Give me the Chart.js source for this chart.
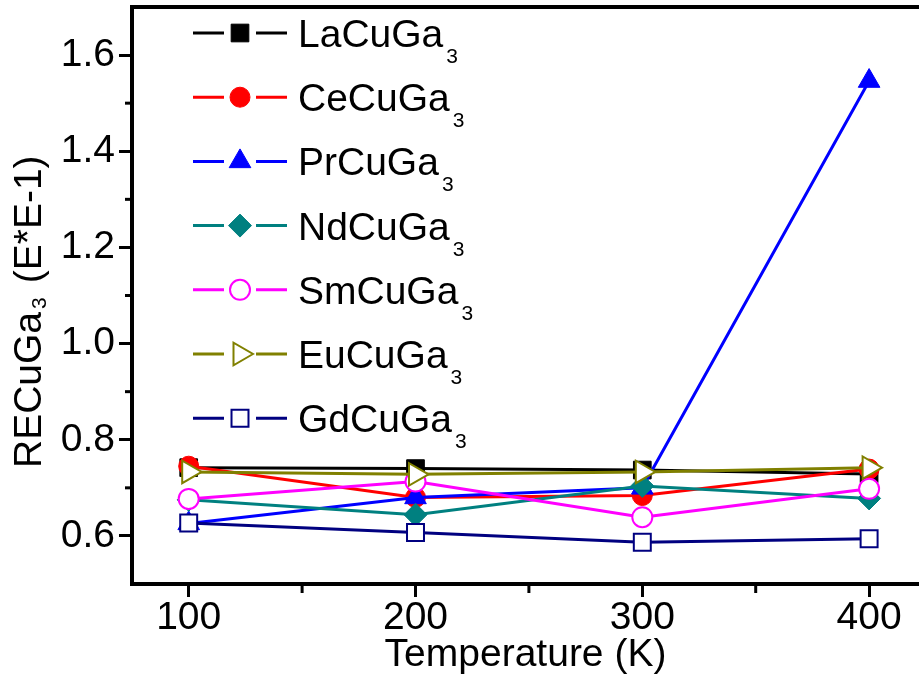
<!DOCTYPE html>
<html>
<head>
<meta charset="utf-8">
<title>RECuGa3 vs temperature</title>
<script src="https://cdn.jsdelivr.net/npm/chart.js@4.4.1/dist/chart.umd.min.js"></script>
<style>
  html, body { margin: 0; padding: 0; background: #fff; overflow: hidden; }
  #chart { display: block; }
</style>
</head>
<body>
<canvas id="chart" width="919" height="686"></canvas>
<script>
// Temperatures (K) and the value for each compound
const temperatures = [100, 200, 300, 400];
const laCuGa3 = [0.742, 0.740, 0.737, 0.729];
const ceCuGa3 = [0.745, 0.680, 0.684, 0.739];
const prCuGa3 = [0.626, 0.680, 0.700, 1.546];
const ndCuGa3 = [0.675, 0.644, 0.704, 0.678];
const smCuGa3 = [0.677, 0.713, 0.639, 0.698];
const euCuGa3 = [0.733, 0.728, 0.733, 0.742];
const gdCuGa3 = [0.627, 0.607, 0.587, 0.594];

const xTicks = [100, 200, 300, 400];
const xMinorTicks = [150, 250, 350];
const yTicks = [0.6, 0.8, 1.0, 1.2, 1.4, 1.6];
const yMinorTicks = [0.7, 0.9, 1.1, 1.3, 1.5];

const FONT = '"Liberation Sans", Arial, sans-serif';

// name, values, colour, marker, filled?, marker radius, rotation
const series = [
  ['LaCuGa3', laCuGa3, '#000000', 'rect', true, 12.5, 0],
  ['CeCuGa3', ceCuGa3, '#ff0000', 'circle', true, 10, 0],
  ['PrCuGa3', prCuGa3, '#0000ff', 'triangle', true, 12.5, 0],
  ['NdCuGa3', ndCuGa3, '#008080', 'rectRot', true, 11.5, 0],
  ['SmCuGa3', smCuGa3, '#ff00ff', 'circle', false, 10, 0],
  ['EuCuGa3', euCuGa3, '#808000', 'triangle', false, 13, 90],
  ['GdCuGa3', gdCuGa3, '#000080', 'rect', false, 12, 0]
];

const datasets = series.map(([name, values, color, style, filled, radius, rot], i) => ({
  label: name,
  data: temperatures.map((t, j) => ({ x: t, y: values[j] })),
  borderColor: color,
  borderWidth: 3,
  pointStyle: style,
  pointRadius: radius,
  pointRotation: rot,
  pointBackgroundColor: filled ? color : '#ffffff',
  pointBorderColor: color,
  pointBorderWidth: filled ? 1 : 2,
  tension: 0,
  // later compounds sit on top
  order: series.length - i
}));

// draws "LaCuGa3" style formulas with trailing digits as a subscript
function drawFormula(ctx, text, x, y, size, subSize, subDrop) {
  const m = text.match(/^(.*?)(\d*)$/);
  ctx.font = `${size}px ${FONT}`;
  ctx.fillText(m[1], x, y);
  const w = ctx.measureText(m[1]).width;
  ctx.font = `${subSize}px ${FONT}`;
  ctx.fillText(m[2], x + w + 3, y + subDrop);
  return w + 3 + ctx.measureText(m[2]).width;
}

// keep the plot box fixed, no extra room for edge labels
function noPadding(s) {
  s.paddingTop = 0;
  s.paddingBottom = 0;
  s.paddingLeft = 0;
  s.paddingRight = 0;
}

const extrasPlugin = {
  id: 'extras',
  afterDraw(chart) {
    const ctx = chart.ctx;
    const xs = chart.scales.x;
    const ys = chart.scales.y;
    const area = chart.chartArea;

    // minor ticks
    ctx.save();
    ctx.strokeStyle = '#000';
    ctx.lineWidth = 3;
    xMinorTicks.forEach(v => {
      const px = xs.getPixelForValue(v);
      ctx.beginPath();
      ctx.moveTo(px, area.bottom);
      ctx.lineTo(px, area.bottom + 9);
      ctx.stroke();
    });
    yMinorTicks.forEach(v => {
      const py = ys.getPixelForValue(v);
      ctx.beginPath();
      ctx.moveTo(area.left, py);
      ctx.lineTo(area.left - 7, py);
      ctx.stroke();
    });
    ctx.restore();

    // y axis title
    ctx.save();
    ctx.fillStyle = '#000';
    ctx.textBaseline = 'alphabetic';
    ctx.translate(41, 468);
    ctx.rotate(-Math.PI / 2);
    const w = drawFormula(ctx, 'RECuGa3', 0, 0, 39, 21, 5);
    ctx.font = `39px ${FONT}`;
    ctx.fillText('(E*E-1)', w + 14, 0);
    ctx.restore();

    // legend: line - marker - line, then the formula
    ctx.save();
    datasets.forEach((ds, i) => {
      const cy = 33 + i * 64.2;
      ctx.strokeStyle = ds.borderColor;
      ctx.lineWidth = 3;
      ctx.beginPath();
      ctx.moveTo(193, cy);
      ctx.lineTo(224, cy);
      ctx.moveTo(256, cy);
      ctx.lineTo(287, cy);
      ctx.stroke();
      ctx.fillStyle = ds.pointBackgroundColor;
      ctx.lineWidth = ds.pointBorderWidth;
      Chart.helpers.drawPoint(ctx, {
        pointStyle: ds.pointStyle,
        rotation: ds.pointRotation,
        radius: ds.pointRadius,
        borderWidth: ds.pointBorderWidth
      }, 240, cy);
      ctx.fillStyle = '#000';
      ctx.textBaseline = 'alphabetic';
      drawFormula(ctx, ds.label, 298, cy + 14, 39, 21, 16);
    });
    ctx.restore();
  }
};

const axisGrid = {
  drawOnChartArea: false,
  drawTicks: true,
  tickLength: 13,
  tickWidth: 3,
  tickColor: '#000'
};

new Chart(document.getElementById('chart'), {
  type: 'line',
  data: { datasets },
  options: {
    responsive: false,
    devicePixelRatio: 1,
    animation: false,
    layout: { padding: 0, autoPadding: false },
    plugins: {
      legend: { display: false },
      tooltip: { enabled: false }
    },
    scales: {
      x: {
        type: 'linear',
        position: 'bottom',
        min: 75,
        max: 422,
        afterBuildTicks: s => { s.ticks = xTicks.map(v => ({ value: v })); },
        afterFit: s => { s.height = 102; noPadding(s); },
        grid: axisGrid,
        border: { display: true, color: '#000', width: 4 },
        ticks: {
          color: '#000',
          font: { family: FONT, size: 39 },
          padding: -2,
          maxRotation: 0
        },
        title: {
          display: true,
          text: 'Temperature (K)',
          color: '#000',
          font: { family: FONT, size: 39 },
          padding: { top: 0, bottom: 7 }
        }
      },
      xTop: {
        type: 'linear',
        position: 'top',
        min: 75,
        max: 422,
        afterFit: s => { s.height = 7; noPadding(s); },
        grid: { display: true, drawOnChartArea: false, drawTicks: false },
        border: { display: true, color: '#000', width: 4 },
        ticks: { display: false }
      },
      y: {
        type: 'linear',
        position: 'left',
        min: 0.5,
        max: 1.7,
        afterBuildTicks: s => { s.ticks = yTicks.map(v => ({ value: v })); },
        afterFit: s => { s.width = 132; noPadding(s); },
        grid: axisGrid,
        border: { display: true, color: '#000', width: 4 },
        ticks: {
          color: '#000',
          font: { family: FONT, size: 39 },
          padding: 4,
          callback: v => v.toFixed(1)
        }
      }
    }
  },
  plugins: [extrasPlugin]
});
</script>
</body>
</html>
